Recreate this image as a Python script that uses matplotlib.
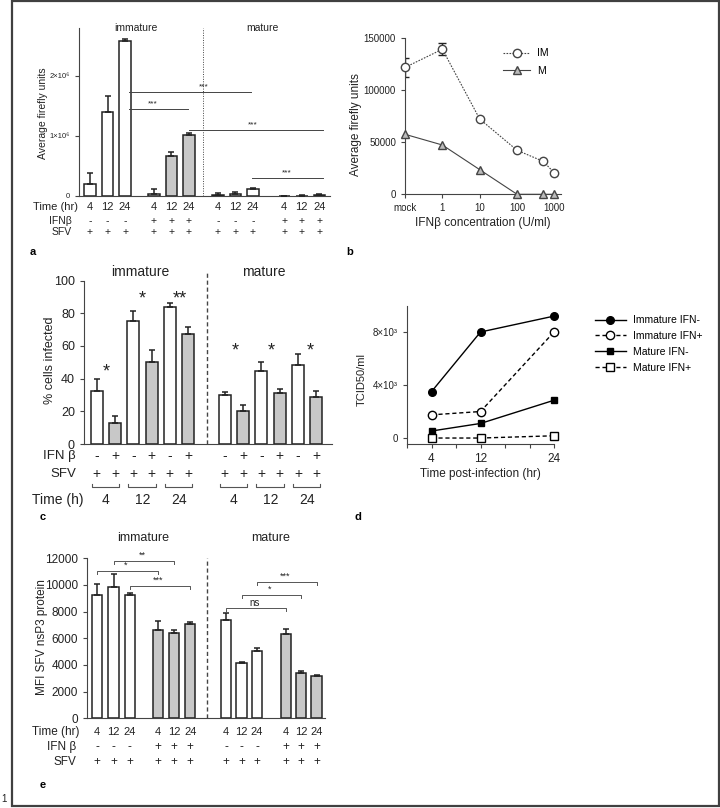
import matplotlib
matplotlib.use("Agg")
import matplotlib.pyplot as plt
import matplotlib.transforms as mtransforms
from matplotlib.patches import Rectangle
from matplotlib.lines import Line2D

plt.rcParams['font.family'] = ['Liberation Sans', 'DejaVu Sans']
plt.rcParams['axes.linewidth'] = 0.8
plt.rcParams['xtick.major.width'] = 0.8
plt.rcParams['ytick.major.width'] = 0.8

W, H = 720, 808
INK = '#222222'
GREY = '#c8c8c8'

# ---- panel a: firefly units
a_pos = [0, 1, 2, 3.65, 4.65, 5.65, 7.3, 8.3, 9.3, 11.1, 12.1, 13.1]
a_mean = [0.20e6, 1.40e6, 2.59e6, 0.04e6, 0.67e6, 1.01e6,
          0.02e6, 0.035e6, 0.12e6, 0.005e6, 0.008e6, 0.02e6]
a_err = [0.19e6, 0.27e6, 0.03e6, 0.08e6, 0.06e6, 0.045e6,
         0.035e6, 0.03e6, 0.015e6, 0.003e6, 0.004e6, 0.01e6]
a_gray = [0, 0, 0, 0, 1, 1, 0, 0, 0, 1, 1, 1]
a_time = ['4', '12', '24'] * 4
a_ifn = ['-'] * 3 + ['+'] * 3 + ['-'] * 3 + ['+'] * 3
a_sfv = ['+'] * 12
a_sig = [(2.25, 9.18, 1.73e6, 6.5), (2.25, 5.58, 1.455e6, 3.6),
         (5.67, 13.33, 1.095e6, 9.27), (9.27, 13.33, 0.30e6, 11.26)]

# ---- panel b: IFN dose response
b_conc = [0.1, 1, 10, 100, 500, 1000]
b_im = [122000, 139500, 72400, 42300, 31700, 20500]
b_im_err = [9000, 5700, 0, 0, 0, 0]
b_m = [57700, 47400, 23700, 0, 0, 0]
b_ticks = [0.1, 1, 10, 100, 1000]
b_ticklabels = ['mock', '1', '10', '100', '1000']

# ---- panel c: % cells infected
c_pos = [0, 1, 2, 3, 4, 5, 7, 8, 9, 10, 11, 12]
c_mean = [32.6, 13, 75.4, 50, 83.6, 67.1, 30, 20.4, 44.6, 31.4, 48.1, 29]
c_err = [7.4, 4.1, 5.9, 7.5, 2.4, 4.6, 1.6, 3.5, 5.4, 2.2, 6.9, 3.6]
c_ifn = ['-', '+'] * 6
c_sfv = ['+'] * 12
c_time = ['4', '12', '24', '4', '12', '24']
c_time_pos = [0.5, 2.5, 4.5, 7.5, 9.5, 11.5]
c_stars = [(0.51, '*', 44), (2.49, '*', 89), (4.55, '**', 89),
           (7.56, '*', 57), (9.56, '*', 57), (11.66, '*', 57)]

# ---- panel d: TCID50
d_time = [4, 12, 24]
d_imm_neg = [3500, 8000, 9200]
d_imm_pos = [1750, 2000, 8000]
d_mat_neg = [530, 1100, 2850]
d_mat_pos = [0, 0, 170]

# ---- panel e: MFI nsP3
e_pos = [0, 1, 2, 3.7, 4.7, 5.7, 7.9, 8.85, 9.8, 11.55, 12.5, 13.45]
e_mean = [9250, 9850, 9250, 6625, 6425, 7075, 7400, 4125, 5050, 6325, 3375, 3175]
e_err = [800, 950, 170, 675, 200, 125, 475, 100, 200, 350, 200, 75]
e_gray = [0, 0, 0, 1, 1, 1, 0, 0, 0, 1, 1, 1]
e_time = ['4', '12', '24'] * 4
e_ifn = ['-'] * 3 + ['+'] * 3 + ['-'] * 3 + ['+'] * 3
e_sfv = ['+'] * 12
e_sig = [(0, 3.7, 11070, '*'), (1, 4.7, 11800, '**'), (2, 5.7, 9950, '***'),
         (9.8, 13.45, 10250, '***'), (8.85, 12.5, 9250, '*'), (7.9, 11.55, 8250, 'ns')]


def add_ax(l, r, t, b):
    return fig.add_axes([l / W, 1 - b / H, (r - l) / W, (b - t) / H])


def ftext(x, y, s, **kw):
    kw.setdefault('ha', 'center')
    kw.setdefault('va', 'center')
    fig.text(x / W, 1 - y / H, s, **kw)


def row(ax, xs, labels, ypx, size):
    tr = mtransforms.blended_transform_factory(ax.transData, fig.transFigure)
    for x, s in zip(xs, labels):
        ax.text(x, 1 - ypx / H, s, transform=tr, ha='center', va='center',
                fontsize=size, color=INK, clip_on=False)


def bars(ax, pos, mean, err, gray, width):
    cols = [GREY if g else 'white' for g in gray]
    ax.bar(pos, mean, width=width, color=cols, edgecolor=INK, linewidth=1.1, zorder=2)
    ax.errorbar(pos, mean, yerr=[[0] * len(err), err], fmt='none', ecolor=INK,
                elinewidth=1.1, capsize=2.5, capthick=1.1, zorder=3, clip_on=False)


def style(ax):
    for s in ['top', 'right']:
        ax.spines[s].set_visible(False)
    for s in ['left', 'bottom']:
        ax.spines[s].set_color('#444444')
    ax.tick_params(colors='#444444', labelcolor=INK, length=3)


fig = plt.figure(figsize=(W / 100, H / 100), dpi=100)

# ===================== a
ax = add_ax(78.7, 330, 28, 196)
bars(ax, a_pos, a_mean, a_err, a_gray, 0.66)
ax.set_xlim(-0.646, 13.71)
ax.set_ylim(0, 2.8e6)
ax.set_xticks([])
ax.set_yticks([0, 1e6, 2e6])
ax.set_yticklabels(['0', '1×10⁶', '2×10⁶'], fontsize=5.5)
style(ax)
ax.axvline(6.47, color='#444444', lw=0.7, ls=(0, (1, 1.5)), ymax=1.0)
for x1, x2, y, tx in a_sig:
    ax.plot([x1, x2], [y, y], color='#444444', lw=0.7, clip_on=False)
    ax.text(tx, y + 0.03e6, '***', ha='center', va='bottom', fontsize=6, color=INK)
ftext(136, 28, 'immature', fontsize=7.5, color=INK)
ftext(262, 28, 'mature', fontsize=7.5, color=INK)
ftext(43, 113, 'Average firefly units', fontsize=7.5, rotation=90, color=INK)
ftext(78, 207, 'Time (hr)', ha='right', fontsize=8, color=INK)
ftext(72, 221, 'IFNβ', ha='right', fontsize=7.5, color=INK)
ftext(72, 232, 'SFV', ha='right', fontsize=7.5, color=INK)
row(ax, a_pos, a_time, 207, 8)
row(ax, a_pos, a_ifn, 221, 7.5)
row(ax, a_pos, a_sfv, 232, 7.5)
ftext(33, 252, 'a', fontsize=8, fontweight='bold')

# ===================== b
ax = add_ax(405, 561, 38.3, 194.3)
ax.set_xscale('log')
ax.plot(b_conc, b_im, color='#444444', lw=0.8, ls=(0, (1.5, 1.2)), marker='o', ms=6,
        mfc='white', mec='#444444', mew=1.0, clip_on=False, zorder=3)
ax.errorbar(b_conc, b_im, yerr=b_im_err, fmt='none', ecolor='#222222', elinewidth=1.0,
            capsize=3, capthick=1.0, zorder=2)
ax.plot(b_conc, b_m, color='#444444', lw=0.8, marker='^', ms=6,
        mfc='#bbbbbb', mec='#444444', mew=1.0, clip_on=False, zorder=3)
ax.set_xlim(0.1, 1500)
ax.set_ylim(0, 150000)
ax.set_xticks(b_ticks)
ax.set_xticklabels(b_ticklabels, fontsize=7)
ax.set_yticks([0, 50000, 100000, 150000])
ax.set_yticklabels(['0', '50000', '100000', '150000'], fontsize=7)
style(ax)
ax.tick_params(axis='x', which='minor', length=1.5, colors='#888888')
ax.set_xlabel('IFNβ concentration (U/ml)', fontsize=8.5, color=INK, labelpad=3)
ftext(356, 125, 'Average firefly units', fontsize=8.5, rotation=90, color=INK)
handles = [Line2D([], [], color='#444444', lw=0.8, ls=(0, (1.5, 1.2)), marker='o', ms=6,
                  mfc='white', mec='#444444'),
           Line2D([], [], color='#444444', lw=0.8, marker='^', ms=6,
                  mfc='#bbbbbb', mec='#444444')]
fig.legend(handles, ['IM', 'M'], loc='upper left', bbox_to_anchor=(494 / W, 1 - 39 / H),
           frameon=False, fontsize=7.5, handlelength=2.6, labelspacing=0.7, handletextpad=0.6)
ftext(350, 252, 'b', fontsize=8, fontweight='bold')

# ===================== c
ax = add_ax(84, 331.7, 280.5, 444)
bars(ax, c_pos, c_mean, c_err, [0, 1] * 6, 0.66)
ax.set_xlim(-0.69, 12.84)
ax.set_ylim(0, 100)
ax.set_xticks([])
ax.set_yticks([0, 20, 40, 60, 80, 100])
ax.set_yticklabels(['0', '20', '40', '60', '80', '100'], fontsize=9)
style(ax)
ax.axvline(6.04, color='#444444', lw=1.0, ls=(0, (3, 2)), ymin=0, ymax=1.05, clip_on=False)
for x, s, y in c_stars:
    ax.text(x, y, s, ha='center', va='center', fontsize=13, color=INK)
ftext(140, 272, 'immature', fontsize=10, color=INK)
ftext(264, 272, 'mature', fontsize=10, color=INK)
ftext(50, 360, '% cells infected', fontsize=9, rotation=90, color=INK)
ftext(76, 456, 'IFN β', ha='right', fontsize=9.5, color=INK)
ftext(76, 474, 'SFV', ha='right', fontsize=9.5, color=INK)
ftext(84, 500, 'Time (h)', ha='right', fontsize=10, color=INK)
row(ax, c_pos, c_ifn, 456, 10)
row(ax, c_pos, c_sfv, 474, 10)
row(ax, c_time_pos, c_time, 500, 10)
tr = mtransforms.blended_transform_factory(ax.transData, fig.transFigure)
yb = 1 - 487 / H
yt = 1 - 484 / H
for cx in c_time_pos:
    ax.plot([cx - 0.78, cx - 0.78, cx + 0.72, cx + 0.72], [yt, yb, yb, yt], transform=tr,
            color='#555555', lw=0.8, clip_on=False)
ftext(43, 517, 'c', fontsize=8, fontweight='bold')

# ===================== d
ax = add_ax(407, 554, 305.5, 444)
ax.plot(d_time, d_imm_neg, color='black', lw=1.0, marker='o', ms=5.5, mfc='black',
        mec='black', clip_on=False, label='Immature IFN-')
ax.plot(d_time, d_imm_pos, color='black', lw=1.0, ls=(0, (3, 2)), marker='o', ms=6,
        mfc='white', mec='black', clip_on=False, label='Immature IFN+')
ax.plot(d_time, d_mat_neg, color='black', lw=1.0, marker='s', ms=5, mfc='black',
        mec='black', clip_on=False, label='Mature IFN-')
ax.plot(d_time, d_mat_pos, color='black', lw=1.0, ls=(0, (3, 2)), marker='s', ms=5.5,
        mfc='white', mec='black', clip_on=False, label='Mature IFN+')
ax.set_xlim(0, 24)
ax.set_ylim(-450, 10000)
ax.set_xticks([0, 4, 8, 12, 16, 20, 24])
ax.set_xticklabels(['', '4', '', '12', '', '', '24'], fontsize=8.5)
ax.set_yticks([0, 4000, 8000])
ax.set_yticklabels(['0', '4×10³', '8×10³'], fontsize=7)
style(ax)
ax.set_xlabel('Time post-infection (hr)', fontsize=8.5, color=INK, labelpad=2)
ftext(362, 380, 'TCID50/ml', fontsize=8, rotation=90, color=INK)
ax.legend(loc='upper left', bbox_to_anchor=(586 / W, 1 - 306 / H), bbox_transform=fig.transFigure,
          frameon=False, fontsize=7.5, handlelength=2.9, labelspacing=0.55, handletextpad=0.7)
ftext(358, 517, 'd', fontsize=8, fontweight='bold')

# ===================== e
ax = add_ax(87.3, 325.5, 558.3, 718.3)
bars(ax, e_pos, e_mean, e_err, e_gray, 0.62)
ax.set_xlim(-0.61, 14.0)
ax.set_ylim(0, 12000)
ax.set_xticks([])
ax.set_yticks(range(0, 12001, 2000))
ax.set_yticklabels([str(v) for v in range(0, 12001, 2000)], fontsize=8.5)
style(ax)
ax.axvline(6.75, color='#444444', lw=1.0, ls=(0, (3, 2)), ymin=0, ymax=1.0)
for x1, x2, y, s in e_sig:
    ax.plot([x1, x1, x2, x2], [y - 230, y, y, y - 230], color='#555555', lw=0.7, clip_on=False)
    ax.text((x1 + x2) / 2 - 0.1, y + 60, s, ha='center', va='bottom',
            fontsize=6.5 if s != 'ns' else 7, color=INK)
ftext(143, 538, 'immature', fontsize=9, color=INK)
ftext(271, 538, 'mature', fontsize=9, color=INK)
ftext(42, 637, 'MFI SFV nsP3 protein', fontsize=8.5, rotation=90, color=INK)
ftext(80, 732, 'Time (hr)', ha='right', fontsize=8.5, color=INK)
ftext(76, 747, 'IFN β', ha='right', fontsize=8.5, color=INK)
ftext(76, 762, 'SFV', ha='right', fontsize=8.5, color=INK)
row(ax, e_pos, e_time, 732, 8)
row(ax, e_pos, e_ifn, 747, 8.5)
row(ax, e_pos, e_sfv, 762, 8.5)
ftext(43, 785, 'e', fontsize=8, fontweight='bold')

# outer frame
fig.patches.append(Rectangle((12 / W, 1 - 806 / H), (719 - 12) / W, 805 / H,
                             transform=fig.transFigure, fill=False,
                             edgecolor='#404040', linewidth=1.6))
ftext(4, 799, '1', fontsize=7, color=INK)

fig.savefig('out.png', dpi=100)
